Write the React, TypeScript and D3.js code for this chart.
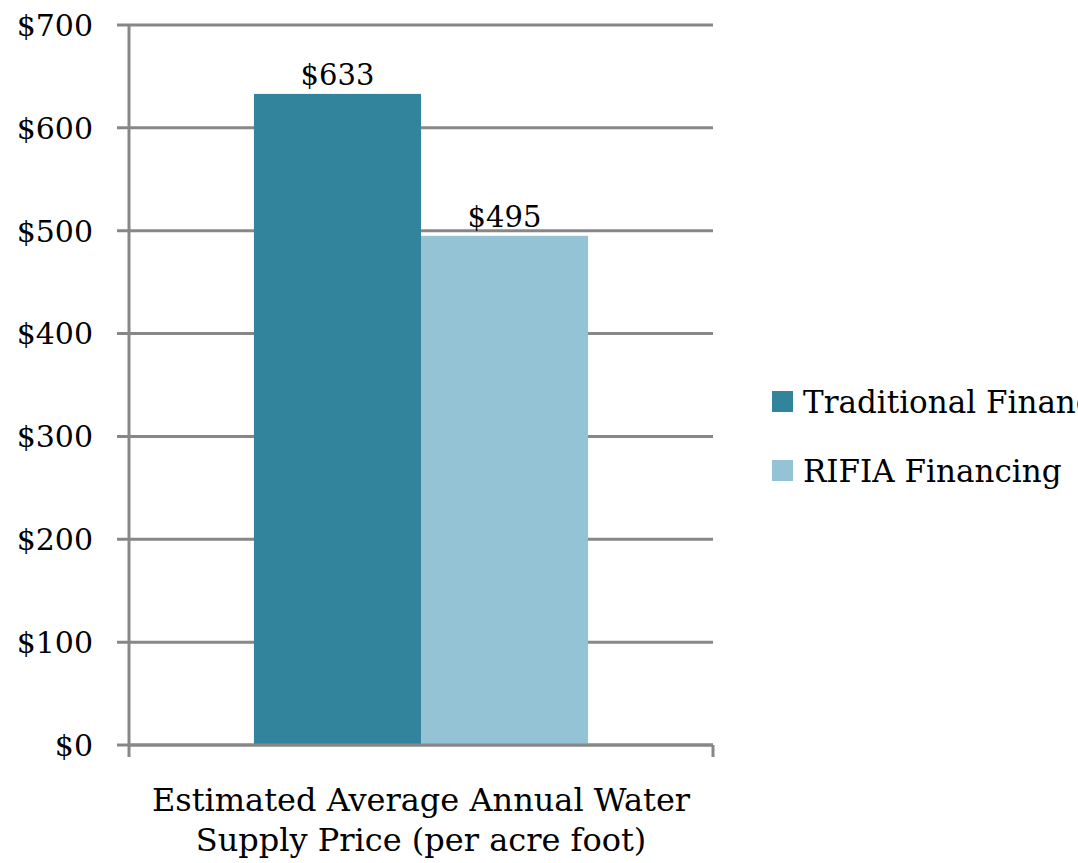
import React from "react";
import * as d3 from "d3";

const categories = ["Estimated Average Annual Water Supply Price (per acre foot)"];
const categoryLines = ["Estimated Average Annual Water", "Supply Price (per acre foot)"];
const seriesNames = ["Traditional Financing", "RIFIA Financing"];
const seriesValues = [633, 495];
const seriesColors = ["#31849b", "#93c3d4"];
const yTicks = [0, 100, 200, 300, 400, 500, 600, 700];

const W = 1078;
const H = 863;
const FONT = "'DejaVu Serif', 'Liberation Serif', serif";

export default function App() {
  const left = 129;
  const right = 713;
  const top = 25;
  const bottom = 745;

  const y = d3.scaleLinear().domain([0, 700]).range([bottom, top]);
  const x0 = d3.scaleBand().domain(categories).range([left, right]).paddingInner(0).paddingOuter(0.374);
  const x1 = d3.scaleBand().domain(seriesNames).range([0, x0.bandwidth()]);

  const grid = "#878787";
  const fmt = (v: number) => `$${v}`;

  return (
    <svg width={W} height={H} style={{ position: "absolute", left: 0, top: 0, background: "#fff" }}>
      {yTicks.map((t) => (
        <g key={t}>
          <line x1={left - 12} x2={right} y1={y(t)} y2={y(t)} stroke={grid} strokeWidth={3} />
          <text x={93} y={y(t)} dy="0.36em" textAnchor="end" fontFamily={FONT} fontSize={30} fill="#000">
            {fmt(t)}
          </text>
        </g>
      ))}
      <line x1={left} x2={left} y1={top} y2={bottom + 12} stroke={grid} strokeWidth={3} />
      <line x1={right} x2={right} y1={bottom} y2={bottom + 12} stroke={grid} strokeWidth={3} />
      {categories.map((c) => (
        <g key={c} transform={`translate(${x0(c)},0)`}>
          {seriesNames.map((s, i) => (
            <rect
              key={s}
              x={x1(s)}
              y={y(seriesValues[i])}
              width={x1.bandwidth()}
              height={y(0) - y(seriesValues[i])}
              fill={seriesColors[i]}
            />
          ))}
          {seriesNames.map((s, i) => (
            <text
              key={s + "l"}
              x={(x1(s) as number) + x1.bandwidth() / 2}
              y={y(seriesValues[i]) - 9}
              textAnchor="middle"
              fontFamily={FONT}
              fontSize={29}
              fill="#000"
            >
              {fmt(seriesValues[i])}
            </text>
          ))}
        </g>
      ))}
      <line x1={left} x2={right} y1={bottom} y2={bottom} stroke={grid} strokeWidth={3} />
      {categoryLines.map((l, i) => (
        <text
          key={l}
          x={(left + right) / 2}
          y={811 + i * 40}
          textAnchor="middle"
          fontFamily={FONT}
          fontSize={32}
          fill="#000"
        >
          {l}
        </text>
      ))}
      {seriesNames.map((s, i) => (
        <g key={s} transform={`translate(772,${391 + i * 69})`}>
          <rect width={21} height={21} fill={seriesColors[i]} />
          <text x={31} y={22} fontFamily={FONT} fontSize={31} fill="#000">
            {s}
          </text>
        </g>
      ))}
    </svg>
  );
}
